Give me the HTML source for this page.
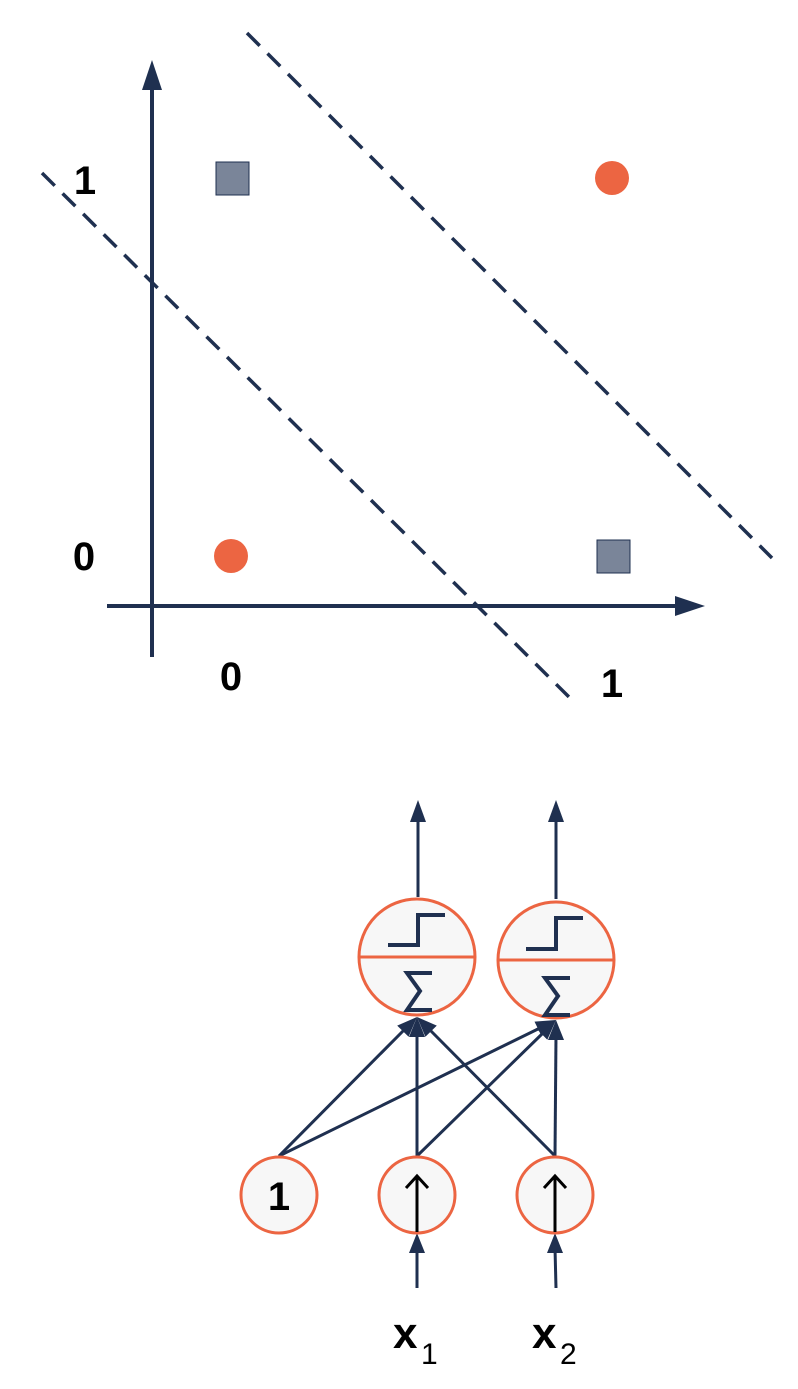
<!DOCTYPE html>
<html><head><style>html,body{margin:0;padding:0;background:#fff}</style></head><body>
<svg width="798" height="1384" viewBox="0 0 798 1384" xmlns="http://www.w3.org/2000/svg" font-family="Liberation Sans, sans-serif">
<g stroke="#1f3050" stroke-width="4" fill="none">
<line x1="152" y1="657" x2="152" y2="85"/>
<line x1="107" y1="606" x2="680" y2="606"/>
</g>
<path d="M152,60 L142,90 L162,90z" fill="#1f3050"/>
<path d="M705,606 L675,596 L675,616z" fill="#1f3050"/>
<g stroke="#1f3050" stroke-width="3.5" stroke-dasharray="18,11">
<line x1="42" y1="173" x2="570" y2="698"/>
<line x1="247" y1="33" x2="772" y2="558"/>
</g>
<rect x="216" y="162" width="33" height="33" fill="#7a8599" stroke="#1f3050" stroke-width="1"/>
<rect x="597" y="540" width="33" height="33" fill="#7a8599" stroke="#1f3050" stroke-width="1"/>
<circle cx="612" cy="178" r="17" fill="#ec6542"/>
<circle cx="231" cy="556" r="17" fill="#ec6542"/>
<g font-size="40" fill="#000" text-anchor="middle" font-weight="bold">
<text x="85" y="194">1</text>
<text x="84" y="570">0</text>
<text x="231" y="690">0</text>
<text x="612" y="697">1</text>
</g>
<g stroke="#1f3050" stroke-width="3" fill="none">
<line x1="418" y1="897" x2="418" y2="815"/>
<line x1="556" y1="899" x2="556" y2="815"/>
<line x1="279" y1="1156" x2="405" y2="1029"/>
<line x1="417" y1="1156" x2="417" y2="1030"/>
<line x1="555" y1="1156" x2="429" y2="1029"/>
<line x1="279" y1="1156" x2="540" y2="1028"/>
<line x1="417" y1="1156" x2="543" y2="1033"/>
<line x1="555" y1="1156" x2="556" y2="1035"/>
<line x1="417" y1="1288" x2="417" y2="1248"/>
<line x1="556" y1="1288" x2="555" y2="1248"/>
</g>
<g fill="#1f3050">
<path d="M418,800 L410,822 L426,822z"/>
<path d="M556,800 L548,822 L564,822z"/>
<path d="M417,1017 L408.6,1036.8 L397.2,1025.6z"/>
<path d="M417,1017 L409,1037 L425,1037z"/>
<path d="M417,1017 L436.8,1025.6 L425.4,1036.8z"/>
<path d="M556,1020 L541.5,1036 L534.5,1021.6z"/>
<path d="M556,1020 L547.3,1039.7 L536.1,1028.3z"/>
<path d="M556,1020 L548,1040 L564,1040z"/>
<path d="M417,1233 L409,1253 L425,1253z"/>
<path d="M555,1233 L547,1253 L563,1253z"/>
</g>
<g stroke="#ec6542" stroke-width="3" fill="#f7f7f7">
<circle cx="417" cy="957" r="58"/>
<circle cx="556" cy="960" r="58"/>
<line x1="359" y1="957" x2="475" y2="957"/>
<line x1="498" y1="960" x2="614" y2="960"/>
<circle cx="279" cy="1195" r="38"/>
<circle cx="417" cy="1195" r="38"/>
<circle cx="555" cy="1195" r="38"/>
</g>
<g stroke="#1f3050" stroke-width="4" fill="none">
<path d="M388,945 H418 V915 H445"/>
<path d="M526,949 H556 V918 H583"/>
<path d="M432,973 H407 L420,991 L407,1010 H432"/>
<path d="M570,978 H545 L558,996 L545,1015 H570"/>
</g>
<g stroke="#000" stroke-width="3" fill="none">
<line x1="417" y1="1232" x2="417" y2="1177"/>
<path d="M406,1188 L417,1176 L428,1188"/>
<line x1="555" y1="1232" x2="555" y2="1177"/>
<path d="M544,1188 L555,1176 L566,1188"/>
</g>
<text x="279" y="1210" font-size="40" font-weight="bold" text-anchor="middle">1</text>
<g font-size="44" font-weight="bold">
<text x="393" y="1348">x</text>
<text x="532" y="1348">x</text>
</g>
<g font-size="30">
<text x="421" y="1364">1</text>
<text x="560" y="1364">2</text>
</g>
</svg>
</body></html>
